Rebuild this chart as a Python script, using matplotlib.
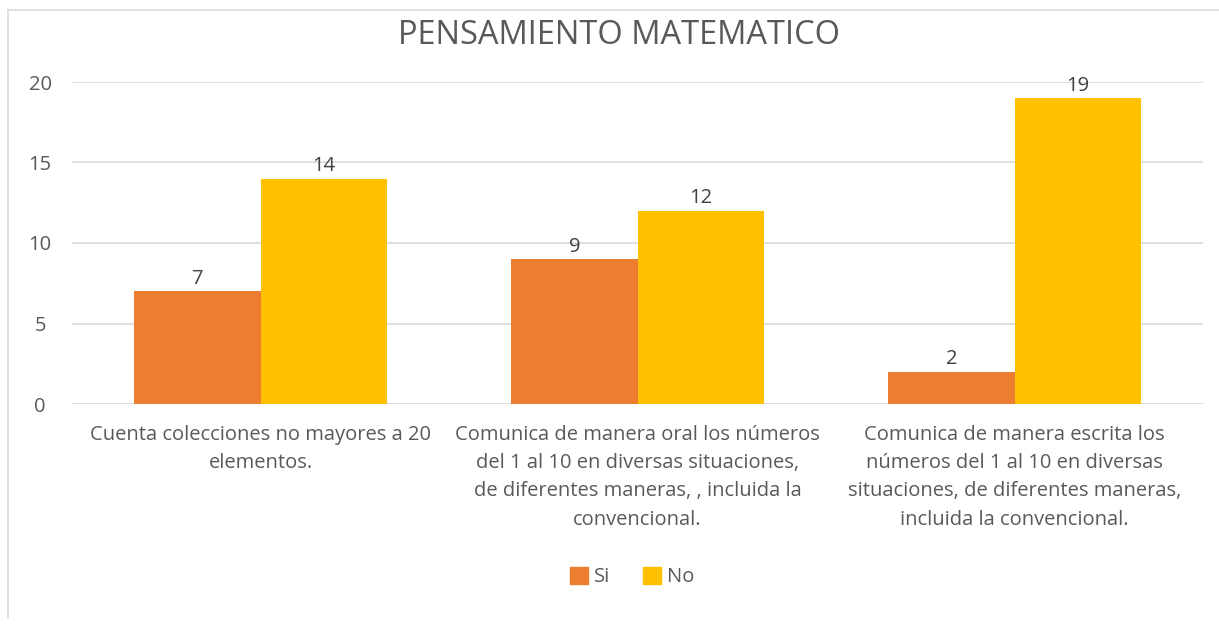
import matplotlib
matplotlib.use("Agg")
import matplotlib.pyplot as plt
from matplotlib.lines import Line2D
from matplotlib.patches import Patch
import numpy as np

categories = [
    "Cuenta colecciones no mayores a 20\nelementos.",
    "Comunica de manera oral los números\ndel 1 al 10 en diversas situaciones,\nde diferentes maneras, , incluida la\nconvencional.",
    "Comunica de manera escrita los\nnúmeros del 1 al 10 en diversas\nsituaciones, de diferentes maneras,\nincluida la convencional.",
]
si_values = [7, 9, 2]
no_values = [14, 12, 19]
series_names = ["Si", "No"]
title = "PENSAMIENTO MATEMATICO"
yticks = [0, 5, 10, 15, 20]

plt.rcParams['font.family'] = ['Open Sans', 'DejaVu Sans']
W, H = 1219, 626
fig = plt.figure(figsize=(W / 100, H / 100), dpi=100)
fig.patch.set_facecolor("white")

# outer chart frame (left and top edges visible)
fig.add_artist(Line2D([8 / W, 8 / W], [1 - 10 / H, 1 - 618 / H], color="#d9d9d9", lw=1.2))
fig.add_artist(Line2D([8 / W, 1.0], [1 - 10 / H, 1 - 10 / H], color="#d9d9d9", lw=1.2))

left, right = 72 / W, 1203 / W
top, bottom = 1 - 82 / H, 1 - 404 / H
ax = fig.add_axes([left, bottom, right - left, top - bottom])

x = np.arange(len(categories))
bw = 0.335
c_si, c_no = "#ed7d31", "#ffc000"
b1 = ax.bar(x - bw / 2, si_values, bw, color=c_si, zorder=3)
b2 = ax.bar(x + bw / 2, no_values, bw, color=c_no, zorder=3)

for bars, vals in ((b1, si_values), (b2, no_values)):
    for r, v in zip(bars, vals):
        ax.text(r.get_x() + r.get_width() / 2, v + 0.15, str(v), ha="center", va="bottom",
                fontsize=14.5, color="#404040")

ax.set_xlim(-0.5, len(categories) - 0.5)
ax.set_ylim(0, 20)
ax.set_yticks(yticks)
ax.set_xticks(x)
ax.set_xticklabels(categories, fontsize=14.5, color="#595959", linespacing=1.55)
ax.tick_params(axis="y", labelsize=14.5, labelcolor="#595959", length=0, pad=23)
ax.tick_params(axis="x", length=0, pad=15)
for lbl in ax.get_yticklabels():
    lbl.set_horizontalalignment("center")
ax.grid(axis="y", color="#d9d9d9", lw=1.2, zorder=0)
for s in ax.spines.values():
    s.set_visible(False)

fig.text(619 / W, 1 - 36 / H, title, ha="center", va="center", fontsize=23.5, color="#595959")

handles = [Patch(color=c_si), Patch(color=c_no)]
fig.legend(handles, series_names, loc="center", bbox_to_anchor=(632 / W, 1 - 577 / H), ncol=2,
           frameon=False, fontsize=14.5, labelcolor="#595959", handlelength=0.9, handleheight=0.9,
           handletextpad=0.3, columnspacing=1.6)

fig.savefig("out.png", dpi=100, facecolor="white")
